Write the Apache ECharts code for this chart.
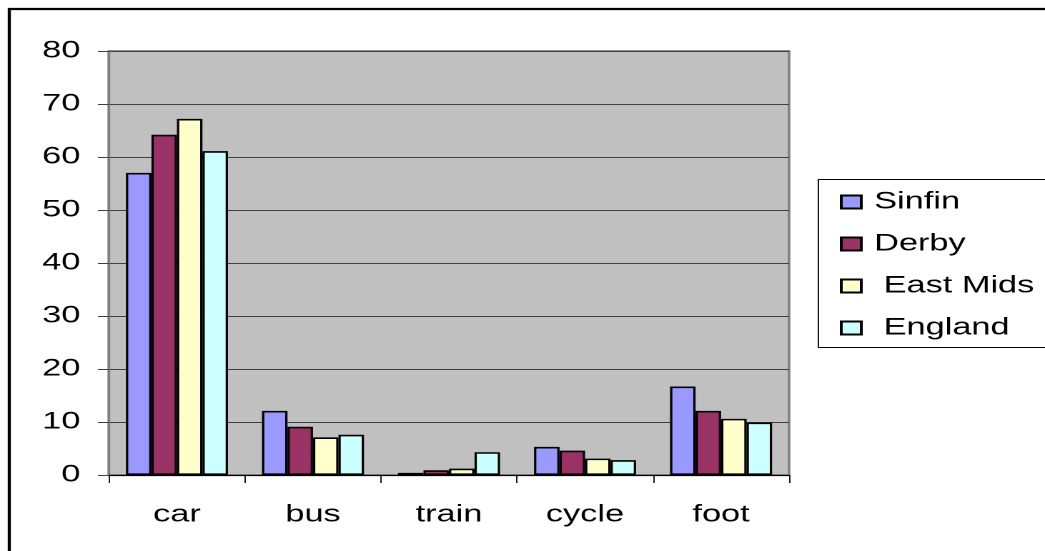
<!DOCTYPE html>
<html>
<head>
<meta charset="utf-8">
<script src="https://cdn.jsdelivr.net/npm/echarts@6/dist/echarts.min.js"></script>
<style>
  html, body { margin: 0; padding: 0; background: #fff; overflow: hidden; }
  #wrap { width: 1045px; height: 551px; overflow: hidden; }
  /* the chart is laid out narrower and widened, giving the broad lettering */
  #chart { width: 731px; height: 551px; transform: scaleX(1.4295); transform-origin: 0 0; }
</style>
</head>
<body>
<div id="wrap"><div id="chart"></div></div>
<script>
// Travel mode shares (%) by area
const categories = ['car', 'bus', 'train', 'cycle', 'foot'];
const sinfin   = [57.0, 12.1, 0.4, 5.3, 16.7];
const derby    = [64.2, 9.1, 0.9, 4.6, 12.1];
const eastMids = [67.2, 7.1, 1.2, 3.1, 10.6];
const england  = [61.1, 7.6, 4.3, 2.8, 9.9];
const seriesNames = ['Sinfin', 'Derby', ' East Mids', ' England'];
const seriesColors = ['#9999FF', '#993366', '#FFFFCC', '#CCFFFF'];
const yTicks = { min: 0, max: 80, interval: 10 };

const font = '"Liberation Sans", Arial, sans-serif';
const chart = echarts.init(document.getElementById('chart'), null, { renderer: 'canvas', devicePixelRatio: 2 });

const dataSets = [sinfin, derby, eastMids, england];
const series = dataSets.map((d, i) => ({
  name: seriesNames[i],
  type: 'bar',
  data: d,
  barGap: '0%',
  barCategoryGap: '25%',
  itemStyle: { color: seriesColors[i], borderColor: '#000', borderWidth: 1.6 },
  emphasis: { disabled: true }
}));

chart.setOption({
  animation: false,
  textStyle: { fontFamily: font },
  graphic: [
    { type: 'rect', shape: { x: 6.5, y: 9, width: 900, height: 600 },
      style: { fill: 'none', stroke: '#000', lineWidth: 2.2 }, z: 10 },
    { type: 'rect', shape: { x: 572.5, y: 179.5, width: 300, height: 168 },
      style: { fill: '#fff', stroke: '#000', lineWidth: 0.9 }, z: 0 }
  ],
  grid: {
    left: 76.2, top: 51, width: 475.8, height: 424,
    show: true, backgroundColor: '#C0C0C0', borderColor: '#808080', borderWidth: 1.8
  },
  legend: {
    orient: 'vertical',
    left: 582.5, top: 185,
    itemWidth: 14, itemHeight: 13,
    itemGap: 18,
    icon: 'rect',
    selectedMode: false,
    textStyle: { fontSize: 24, color: '#000', fontFamily: font, lineHeight: 24, padding: [0, 0, 0, 4] },
    z: 5
  },
  xAxis: {
    type: 'category',
    data: categories,
    boundaryGap: true,
    axisLine: { lineStyle: { color: '#000', width: 1.2 } },
    axisTick: { show: true, length: 8, inside: false, lineStyle: { color: '#000', width: 0.9 } },
    axisLabel: { fontSize: 24, color: '#000', margin: 28, fontFamily: font },
    splitLine: { show: false }
  },
  yAxis: {
    type: 'value',
    min: yTicks.min, max: yTicks.max, interval: yTicks.interval,
    axisLine: { show: true, lineStyle: { color: '#808080', width: 1.5 } },
    axisTick: { show: true, length: 7.7, lineStyle: { color: '#404040' } },
    axisLabel: { fontSize: 24, color: '#000', margin: 20, fontFamily: font },
    splitLine: { show: true, lineStyle: { color: '#404040', width: 1 } }
  },
  series: series
});
</script>
</body>
</html>
